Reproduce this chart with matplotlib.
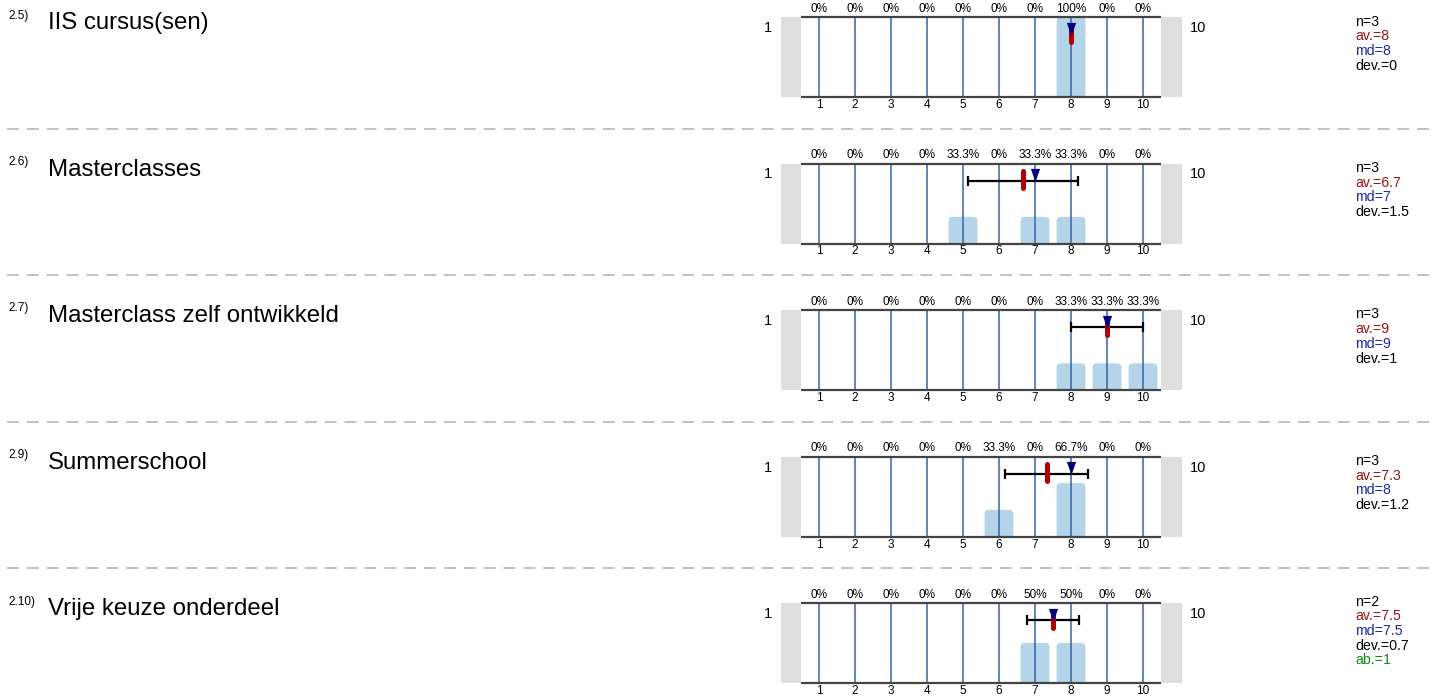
import numpy as np
import matplotlib
matplotlib.use('Agg')
import matplotlib.pyplot as plt
from matplotlib.patches import FancyBboxPatch

plt.rcParams['font.family'] = ['Liberation Sans', 'DejaVu Sans']

# ---- data ----
numbers = ['2.5)', '2.6)', '2.7)', '2.9)', '2.10)']
labels = ['IIS cursus(sen)', 'Masterclasses', 'Masterclass zelf ontwikkeld',
          'Summerschool', 'Vrije keuze onderdeel']
scale = [1, 2, 3, 4, 5, 6, 7, 8, 9, 10]
pct_25 = [0, 0, 0, 0, 0, 0, 0, 100, 0, 0]
pct_26 = [0, 0, 0, 0, 33.3, 0, 33.3, 33.3, 0, 0]
pct_27 = [0, 0, 0, 0, 0, 0, 0, 33.3, 33.3, 33.3]
pct_29 = [0, 0, 0, 0, 0, 33.3, 0, 66.7, 0, 0]
pct_210 = [0, 0, 0, 0, 0, 0, 50, 50, 0, 0]
pcts = [pct_25, pct_26, pct_27, pct_29, pct_210]
n_resp = [3, 3, 3, 3, 2]
means = [8, 6.67, 9, 7.33, 7.5]
medians = [8, 7, 9, 8, 7.5]
devs = [0, 1.53, 1, 1.155, 0.71]
abstain = [None, None, None, None, 1]

# ---- colours ----
c_bar = '#b4d4ea'
c_grid = '#3465a4'
c_axis = '#444444'
c_grey = '#dedede'
c_mean = '#b00000'
c_med = '#000080'
c_av_txt = '#991111'
c_md_txt = '#1a2a9c'
c_ab_txt = '#118811'

W, H = 1434, 697
fig = plt.figure(figsize=(W / 100, H / 100), dpi=100)
bg = fig.add_axes([0, 0, 1, 1])
bg.set_xlim(0, W)
bg.set_ylim(H, 0)
bg.axis('off')


def fmt(v):
    s = '%.1f' % v
    return s.rstrip('0').rstrip('.')


unit = 36.0          # pixels per scale step
ax_left, ax_right = 781, 1182
xlo = 0.5 - (801 - ax_left) / unit
xhi = 10.5 + (ax_right - 1161) / unit
tri = [(-0.7, 1), (0.7, 1), (0, -1)]

for i in range(len(labels)):
    top = 17 + i * 146.5

    # question number and label
    bg.text(8, top + 1.5, numbers[i], fontsize=8.5, va='baseline', ha='left')
    bg.text(48, top + 12.3, labels[i], fontsize=17.3, va='baseline', ha='left')

    ax = fig.add_axes([ax_left / W, 1 - (top + 80) / H,
                       (ax_right - ax_left) / W, 80 / H])
    ax.set_xlim(xlo, xhi)
    ax.set_ylim(0, 1)
    ax.axis('off')

    ax.axvspan(xlo, 0.5, color=c_grey, lw=0, zorder=0)
    ax.axvspan(10.5, xhi, color=c_grey, lw=0, zorder=0)

    for v, p in zip(scale, pcts[i]):
        if p > 0:
            ax.add_patch(FancyBboxPatch((v - 0.4, -0.1), 0.8, p / 100 + 0.1,
                                        boxstyle='round,pad=0,rounding_size=0.11',
                                        mutation_aspect=unit / 80,
                                        fc=c_bar, ec='none', zorder=1))
        ax.annotate(fmt(p) + '%', (v, 1), xytext=(0, 8.5 * 0.72),
                    textcoords='offset points', ha='center', va='center',
                    fontsize=8.5, annotation_clip=False)
        ax.annotate(str(v), (v, 0), xytext=(0, -8 * 0.72),
                    textcoords='offset points', ha='center', va='center',
                    fontsize=8.5, annotation_clip=False)

    ax.vlines(scale, 0, 1, color=c_grid, lw=1.1, zorder=2)
    ax.hlines([0, 1], 0.5, 10.5, color=c_axis, lw=1.6, zorder=3, clip_on=False)

    ax.annotate('1', (xlo, 1 - 11 / 80), xytext=(-9 * 0.72, 0),
                textcoords='offset points', ha='right', va='center',
                fontsize=10.5, annotation_clip=False)
    ax.annotate('10', (xhi, 1 - 11 / 80), xytext=(8 * 0.72, 0),
                textcoords='offset points', ha='left', va='center',
                fontsize=10.5, annotation_clip=False)

    if devs[i] > 0:
        ax.errorbar(means[i], 1 - 17 / 80, xerr=devs[i], color='black',
                    lw=1.6, capsize=3.6, capthick=1.6, zorder=4)
    ax.plot([means[i], means[i]], [1 - 24.5 / 80, 1 - 7.5 / 80], color=c_mean,
            lw=3.6, solid_capstyle='round', zorder=5)
    ax.plot(medians[i], 1 - 11.5 / 80, marker=tri, ms=9.5, color=c_med,
            mec=c_med, mew=0, ls='none', zorder=6, clip_on=False)

    # statistics block
    lines = [('n=%d' % n_resp[i], 'black'),
             ('av.=' + fmt(means[i]), c_av_txt),
             ('md=' + fmt(medians[i]), c_md_txt),
             ('dev.=' + fmt(devs[i]), 'black')]
    if abstain[i] is not None:
        lines.append(('ab.=%d' % abstain[i], c_ab_txt))
    base = top + 8.5 - 6 * (len(lines) - 4)
    for k, (txt, col) in enumerate(lines):
        bg.text(1355, base + k * 14.7, txt, color=col, fontsize=10.2,
                va='baseline', ha='left')

    if i < len(labels) - 1:
        bg.plot([7, W], [top + 111.5, top + 111.5], color='#b0b0b0',
                lw=1.1, ls=(0, (7.8, 5.2)))

fig.savefig('out.png', dpi=100)
